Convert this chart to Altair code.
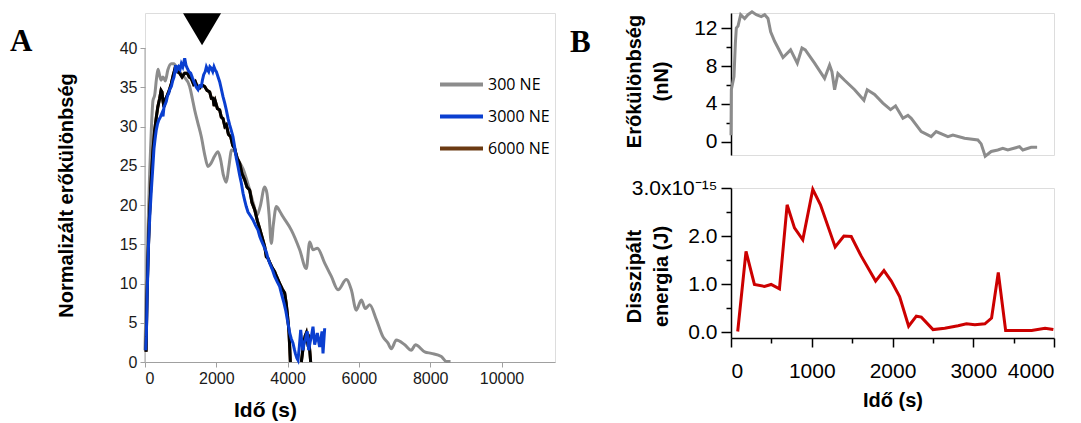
import altair as alt
import pandas as pd

# ---------------- Panel A data ----------------
series_names = ["300 NE", "3000 NE", "6000 NE"]
series_colors = ["#8c8c8c", "#0a3fd0", "#6b3a12"]
line_6000_color = "#000000"

t300 = [0, 40, 84, 130, 178, 224, 272, 320, 365, 410, 450, 505, 570, 640, 739, 813, 900, 1000,
        1100, 1253, 1330, 1393, 1480, 1580, 1680, 1767, 1850, 1950, 2048, 2120, 2200, 2281, 2350,
        2430, 2520, 2610, 2750, 2900, 3050, 3140, 3230, 3357, 3420, 3480, 3543, 3600, 3684, 3780,
        3871, 4105, 4339, 4525, 4619, 4712, 4834, 5040, 5227, 5414, 5647, 5787, 5927, 6068, 6180,
        6302, 6489, 6676, 6816, 6909, 7050, 7284, 7471, 7583, 7845, 8032, 8312, 8452, 8570]
v300 = [1.5, 10, 16.8, 24, 29.6, 33.3, 34.0, 36, 37.3, 36.5, 35.9, 36.3, 35.8, 37.2, 38.0, 38.0, 37.3, 36.8,
        36.3, 35.1, 33.5, 32.1, 30.5, 28.7, 26.3, 24.9, 25.3, 26.2, 26.8, 25.8, 23.8, 22.9, 24.8,
        27.0, 26.8, 25.8, 24.6, 22.5, 20.0, 18.7, 19.8, 22.3, 21.5, 18.8, 15.1, 17.5, 19.8, 19.2,
        18.5, 16.8, 14.3, 11.9, 15.3, 14.3, 14.5, 12.6, 10.9, 9.2, 10.5, 9.2, 6.6, 7.9, 6.8,
        7.3, 5.4, 3.2, 2.4, 1.7, 2.8, 2.2, 1.5, 2.2, 1.3, 1.1, 0.7, 0.05, 0.05]

t3000 = [20, 37, 50, 65, 85, 103, 140, 178, 215, 252, 285, 318, 350, 384, 430, 477, 505, 533, 565, 598,
         630, 664, 700, 739, 775, 813, 840, 860, 900, 945, 985, 1020, 1060, 1090, 1113, 1150, 1188,
         1230, 1281, 1330, 1393, 1440, 1487, 1530, 1580, 1610, 1646, 1690, 1721, 1760, 1786, 1820,
         1861, 1900, 1935, 1970, 2001, 2050, 2094, 2140, 2188, 2235, 2281, 2330, 2375, 2420, 2468,
         2515, 2560, 2609, 2655, 2702, 2750, 2796, 2840, 2889, 2960, 3029, 3100, 3170, 3220, 3263,
         3330, 3403, 3450, 3497, 3570, 3637, 3710, 3778, 3840, 3899, 3950, 3992, 4030, 4058, 4100,
         4151, 4190, 4217, 4260, 4291, 4330, 4367, 4400, 4432, 4465, 4497, 4525, 4553, 4591, 4630,
         4665, 4712, 4759, 4800, 4834, 4870, 4899, 4935, 4965, 4993, 5040]
v3000 = [1.5, 3.2, 6, 9.2, 12.5, 15.5, 19, 21.9, 24.5, 27.2, 28.5, 29.6, 30.3, 30.8, 31.2, 31.7, 31.3, 32.5,
         32.8, 33.2, 33.9, 34.2, 34.8, 35.1, 35.8, 36.3, 37.0, 37.8, 37.2, 37.6, 37.3, 38.0, 37.6, 38.2,
         38.7, 37.8, 37.4, 37.0, 36.8, 36.2, 35.5, 35.0, 34.7, 35.2, 35.1, 35.9, 36.6, 37.0, 37.6, 37.2,
         37.0, 37.6, 37.4, 37.0, 37.6, 37.2, 37.0, 36.3, 35.7, 34.8, 33.8, 33.0, 32.1, 31.0, 30.2, 29.5,
         28.7, 27.4, 26.0, 24.9, 23.8, 22.8, 21.5, 20.6, 19.8, 19.1, 18.6, 18.1, 17.4, 16.8, 16.0, 15.5,
         14.8, 14.0, 13.2, 12.6, 11.8, 10.9, 10.2, 9.6, 8.5, 7.5, 6.5, 5.4, 4.5, 3.7, 3.0,
         2.4, 1.6, 1.1, 0.5, 0.25, 2.0, 4.1, 2.5, 1.5, 2.5, 2.8, 3.5, 3.9, 1.5, 2.5,
         3.2, 4.5, 2.2, 3.0, 3.7, 2.6, 1.9, 3.0, 3.9, 1.1, 4.3]

# 6000 NE: two visible pieces (the curve leaves the axis range between them)
t6000_first = [30, 55, 84, 120, 159, 190, 224, 270, 318, 360, 412, 450, 477, 505, 533, 580, 627, 680, 739,
               790, 832, 860, 907, 973, 1040, 1113, 1188, 1240, 1300, 1360, 1412, 1470, 1534, 1600, 1674,
               1740, 1814, 1860, 1907, 1940, 1973, 2030, 2094, 2140, 2188, 2240, 2281, 2340, 2403, 2460,
               2515, 2580, 2656, 2720, 2796, 2860, 2936, 3000, 3077, 3150, 3217, 3290, 3357, 3403, 3450,
               3498, 3570, 3637, 3700, 3778, 3850, 3918, 3960, 3992, 4020, 4039, 4060, 4077]
v6000_first = [1.3, 8, 13, 18, 21.9, 24.5, 27, 29.5, 31.2, 32.5, 33.6, 34.6, 34.4, 33.2, 32.5, 33.5, 34.0, 34.6, 35.5,
               36.5, 37.2, 37.8, 37.0, 36.8, 36.3, 36.8, 36.8, 36.3, 36.1, 35.4, 35.7, 35.0, 34.9, 35.3, 35.1,
               34.6, 34.4, 33.6, 33.6, 32.6, 33.2, 32.3, 32.1, 31.2, 31.0, 30.0, 30.2, 29.0, 28.7, 27.6,
               27.2, 26.0, 25.3, 24.0, 23.2, 22.3, 21.9, 20.3, 19.4, 18.0, 17.0, 15.8, 14.7, 13.4, 13.2,
               12.7, 12.0, 11.5, 10.8, 10.0, 9.3, 8.8, 7.5, 6.2, 4.8, 3.7, 1.8, 0.0]
t6000_second = [4385, 4440, 4490, 4525, 4560, 4590, 4620, 4647]
v6000_second = [0.0, 2.0, 3.3, 3.7, 2.6, 2.9, 1.5, 0.0]

marker_time = [1600]
marker_level = [42.4]

a_x_ticks = [0, 2000, 4000, 6000, 8000, 10000]
a_y_ticks = [0, 5, 10, 15, 20, 25, 30, 35, 40]

# ---------------- Panel B data ----------------
tB1 = [0, 4, 37, 54, 66, 87, 120, 169, 210, 260, 313, 375, 417, 458, 491, 540, 644, 738, 821, 879, 920,
       1035, 1159, 1221, 1250, 1283, 1324, 1407, 1531, 1646, 1687, 1778, 1881, 1976, 2038, 2129, 2191,
       2232, 2356, 2479, 2541, 2686, 2748, 2892, 3057, 3098, 3148, 3222, 3304, 3366, 3428, 3573, 3614,
       3717, 3791]
vB1 = [0.7, 5.5, 6.9, 10.4, 12.0, 12.2, 13.4, 13.0, 13.4, 13.7, 13.4, 13.2, 13.4, 13.0, 11.6, 10.6, 8.9,
       9.7, 8.3, 9.9, 9.7, 8.3, 6.7, 8.1, 7.4, 5.5, 7.2, 6.5, 5.5, 4.4, 5.5, 5.0, 4.1, 3.4, 3.8, 2.5, 2.8,
       2.5, 1.1, 0.56, 1.1, 0.56, 0.74, 0.39, 0.21, -0.2, -1.5, -1.0, -0.84, -0.67, -0.84, -0.49, -0.84,
       -0.56, -0.56]

tB2 = [83, 186, 290, 414, 497, 600, 695, 786, 889, 1013, 1108, 1290, 1398, 1489, 1613, 1791, 1894, 1985,
       2088, 2200, 2295, 2357, 2502, 2647, 2812, 2916, 3020, 3144, 3227, 3310, 3401, 3558, 3723, 3889, 3992]
vB2 = [0.01, 1.68, 0.99, 0.95, 0.99, 0.9, 2.65, 2.17, 1.92, 2.97, 2.65, 1.77, 2.0, 1.99, 1.58, 1.06, 1.28,
       1.06, 0.74, 0.12, 0.33, 0.31, 0.05, 0.08, 0.13, 0.17, 0.15, 0.17, 0.29, 1.24, 0.03, 0.03, 0.03, 0.08, 0.05]

b_x_ticks = [0, 500, 1000, 1500, 2000, 2500, 3000, 3500, 4000]
b1_y_ticks = [0, 2, 4, 6, 8, 10, 12]
b2_y_ticks = [0, 0.5, 1.0, 1.5, 2.0, 2.5, 3.0]

panel_labels = ["A", "B"]

# ---------------- frames ----------------
def frame(name, seg, t, v):
    return pd.DataFrame({"series": name, "seg": seg, "t": t, "v": v})

df300 = frame("300 NE", 0, t300, v300)
df3000 = frame("3000 NE", 0, t3000, v3000)
df6000 = pd.concat([frame("6000 NE", 0, t6000_first, v6000_first),
                    frame("6000 NE", 1, t6000_second, v6000_second)])

gray_axis = "#a0a0a0"
txt_dark = "#1a1a1a"
FONT = "Liberation Sans"

xA = alt.X("t:Q", scale=alt.Scale(domain=[0, 11500], nice=False, zero=False),
           axis=alt.Axis(values=a_x_ticks, title="Idő (s)", titleFontSize=21, titleFontWeight="bold",
                         titleColor="#000000", titleX=120, titlePadding=13,
                         labelFontSize=16, labelColor=txt_dark, tickSize=5, tickColor=gray_axis,
                         domainColor=gray_axis, labelPadding=3, grid=False, format="d"))
yA = alt.Y("v:Q", scale=alt.Scale(domain=[0, 44.46], nice=False, zero=False),
           axis=alt.Axis(values=a_y_ticks, title="Normalizált erőkülönbség", titleFontSize=20,
                         titleFontWeight="bold", titleColor="#000000", titleX=-69, titleY=182,
                         labelFontSize=16, labelColor=txt_dark, tickSize=5, tickColor=gray_axis,
                         domain=False, labelPadding=3, grid=False))

color_scale = alt.Scale(domain=series_names, range=series_colors)
legend_spec = alt.Legend(orient="none", legendX=293, legendY=48, title=None, symbolType="stroke",
                         symbolSize=1849, symbolStrokeWidth=4, labelFont="Open Sans", labelFontSize=16,
                         labelColor="#000000", rowPadding=0, labelOffset=3, padding=0)
color_enc = alt.Color("series:N", scale=color_scale, legend=legend_spec)

gray_line = alt.Chart(df300).mark_line(strokeWidth=3, interpolate="monotone").encode(
    x=xA, y=yA, color=color_enc)
brown_line = alt.Chart(df6000).mark_line(strokeWidth=3).encode(
    x=xA, y=yA, color=color_enc, detail="seg:N")
black_line = alt.Chart(df6000).mark_line(strokeWidth=3, color=line_6000_color).encode(
    x=xA, y=yA, detail="seg:N")
blue_line = alt.Chart(df3000).mark_line(strokeWidth=3).encode(
    x=xA, y=yA, color=color_enc)

axis_line = alt.Chart(pd.DataFrame({"lo": [a_y_ticks[0]], "hi": [a_y_ticks[-1]]})).mark_rule(
    color=gray_axis, strokeWidth=1).encode(x=alt.value(0), y=alt.Y("lo:Q"), y2="hi:Q")

marker = alt.Chart(pd.DataFrame({"t": marker_time, "v": marker_level})).mark_point(
    shape="M-1,-0.84L1,-0.84L0,0.84Z", size=1444, filled=True, color="#000000", opacity=1,
    strokeWidth=0).encode(x="t:Q", y="v:Q")

label_a = alt.Chart(pd.DataFrame({"lab": [panel_labels[0]]})).mark_text(
    font="Liberation Serif", fontWeight="bold", fontSize=31, align="left", baseline="alphabetic",
    color="#000000").encode(x=alt.value(-135), y=alt.value(38), text="lab:N")

panel_a = alt.layer(axis_line, gray_line, brown_line, black_line, blue_line, marker, label_a).properties(
    width=410, height=349)

# ---------------- Panel B ----------------
b_axis_common = dict(labelFontSize=21, labelColor="#000000", tickColor="#000000", domainColor="#000000",
                     tickWidth=1.5, domainWidth=1.5, grid=False,
                     titleFontSize=20, titleFontWeight="bold", titleColor="#000000", titleLineHeight=27)

xB_scale = alt.Scale(domain=[0, 4000], nice=False, zero=False)

b1 = alt.Chart(pd.DataFrame({"t": tB1, "v": vB1})).mark_line(color="#8c8c8c", strokeWidth=3).encode(
    x=alt.X("t:Q", scale=xB_scale, axis=None),
    y=alt.Y("v:Q", scale=alt.Scale(domain=[-1.37, 13.58], nice=False, zero=False),
            axis=alt.Axis(values=b1_y_ticks, labelExpr="datum.value % 4 === 0 ? datum.label : ''",
                          tickSize={"condition": {"test": "datum.value % 4 === 0", "value": 10}, "value": 5},
                          labelPadding=4,
                          title=["Erőkülönbség", "(nN)"], titleX=-87, titleY=68, **b_axis_common)))
label_b = alt.Chart(pd.DataFrame({"lab": [panel_labels[1]]})).mark_text(
    font="Liberation Serif", fontWeight="bold", fontSize=31, align="left", baseline="alphabetic",
    color="#000000").encode(x=alt.value(-161), y=alt.value(39), text="lab:N")
panel_b1 = alt.layer(b1, label_b).properties(width=323, height=142)

b2_label_expr = ("datum.value === 3 ? '3.0x10⁻¹⁵' : "
                 "(datum.value % 1 === 0 ? format(datum.value, '.1f') : '')")
panel_b2 = alt.Chart(pd.DataFrame({"t": tB2, "v": vB2})).mark_line(color="#cc0000", strokeWidth=3).encode(
    x=alt.X("t:Q", scale=xB_scale,
            axis=alt.Axis(values=b_x_ticks, labelExpr="datum.value % 1000 === 0 ? datum.label : ''",
                          tickSize={"condition": {"test": "datum.value % 1000 === 0", "value": 9}, "value": 5},
                          labelPadding=13,
                          format="d", title="Idő (s)", titlePadding=9, **b_axis_common)),
    y=alt.Y("v:Q", scale=alt.Scale(domain=[-0.125, 3.0], nice=False, zero=False),
            axis=alt.Axis(values=b2_y_ticks, labelExpr=b2_label_expr,
                          tickSize={"condition": {"test": "datum.value % 1 === 0", "value": 10}, "value": 5},
                          labelPadding=4,
                          title=["Disszipált", "energia (J)"], titleX=-87, titleY=88, **b_axis_common))
).properties(width=323, height=150)

right = alt.vconcat(panel_b1, panel_b2, spacing=33, bounds="flush")

chart = alt.hconcat(panel_a, right, spacing=176, bounds="flush").properties(
    padding={"left": 9, "top": 5, "right": 3, "bottom": 3}
).configure_view(stroke=None).configure_axis(
    labelFont=FONT, titleFont=FONT
).configure(background="#ffffff")

chart.save("out.html", embed_options={"renderer": "svg", "actions": False})
